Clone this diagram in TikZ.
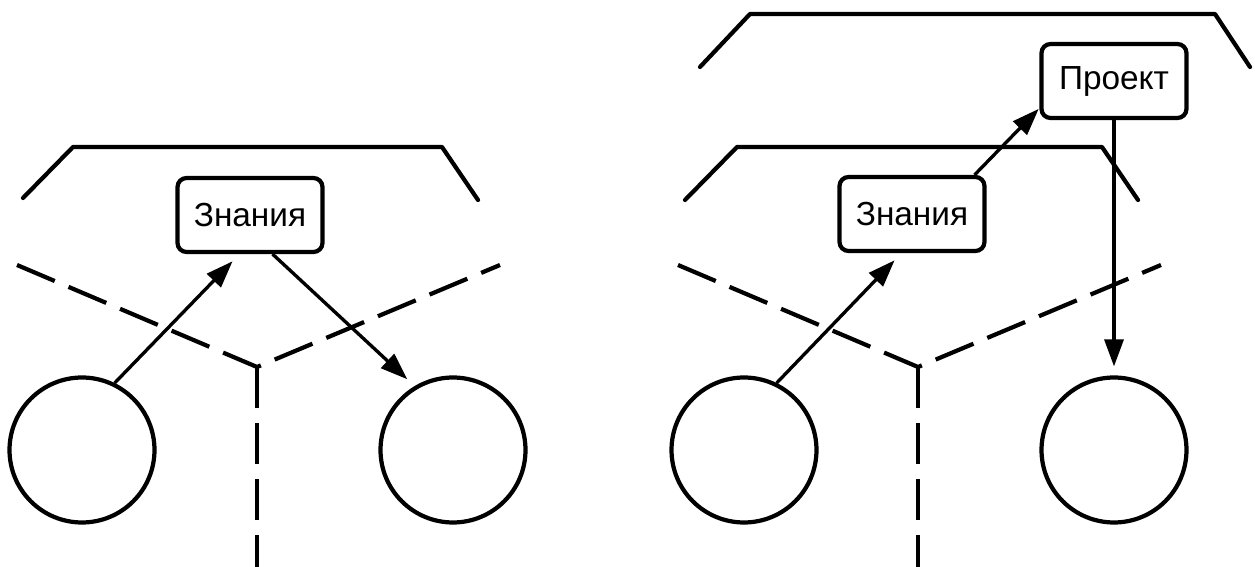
\documentclass[tikz,border=0pt]{standalone}
\usepackage{fontspec}
\setsansfont{Liberation Sans}
\usetikzlibrary{arrows.meta}
\begin{document}
\begin{tikzpicture}[
   x=0.02cm,y=-0.02cm,
   font=\sffamily\fontsize{19}{22}\selectfont,
   box/.style={draw,line width=2.4pt,rounded corners=0.18cm,minimum width=2.9cm,minimum height=1.48cm,inner sep=0pt},
   ring/.style={draw,circle,line width=2.4pt,minimum size=2.9cm,inner sep=0pt},
   wall/.style={line width=2.4pt,line cap=round,line join=round},
   border/.style={line width=2.4pt,dash pattern=on 0.82cm off 0.3cm},
   arr/.style={-{Triangle[length=0.54cm,width=0.38cm]},line width=1.9pt,shorten >=0.2cm}]
\useasboundingbox (0,0) rectangle (1255,567);
\node[box] (zn1) at (250,215) {Знания};
\node[box] (zn2) at (912,214) {Знания};
\node[box] (pr) at (1114,81) {Проект};
\node[ring] (c1) at (82,450) {};
\node[ring] (c2) at (453,450) {};
\node[ring] (c3) at (744,450) {};
\node[ring] (c4) at (1114,450) {};
\draw[wall] (23,198) -- (73,147) -- (442,147) -- (478,200);
\draw[wall] (685,200) -- (737,147) -- (1102,147) -- (1138,200);
\draw[wall] (700,67) -- (750,14) -- (1215,14) -- (1250,67);
\draw[border] (17,265) -- (257,367) -- (500,265);
\draw[border] (257,367) -- (257,567);
\draw[border] (678,265) -- (918,367) -- (1161,265);
\draw[border] (918,367) -- (918,567);
\draw[arr] (c1.64) -- (zn1.255);
\draw[arr] (zn1.300) -- (c2.121);
\draw[arr] (c3.64) -- (zn2.255);
\draw[arr,shorten >=0.02cm] (zn2.32) -- (pr.200);
\draw[arr,shorten >=0.18cm] (pr.south) -- (c4.north);
\end{tikzpicture}
\end{document}
